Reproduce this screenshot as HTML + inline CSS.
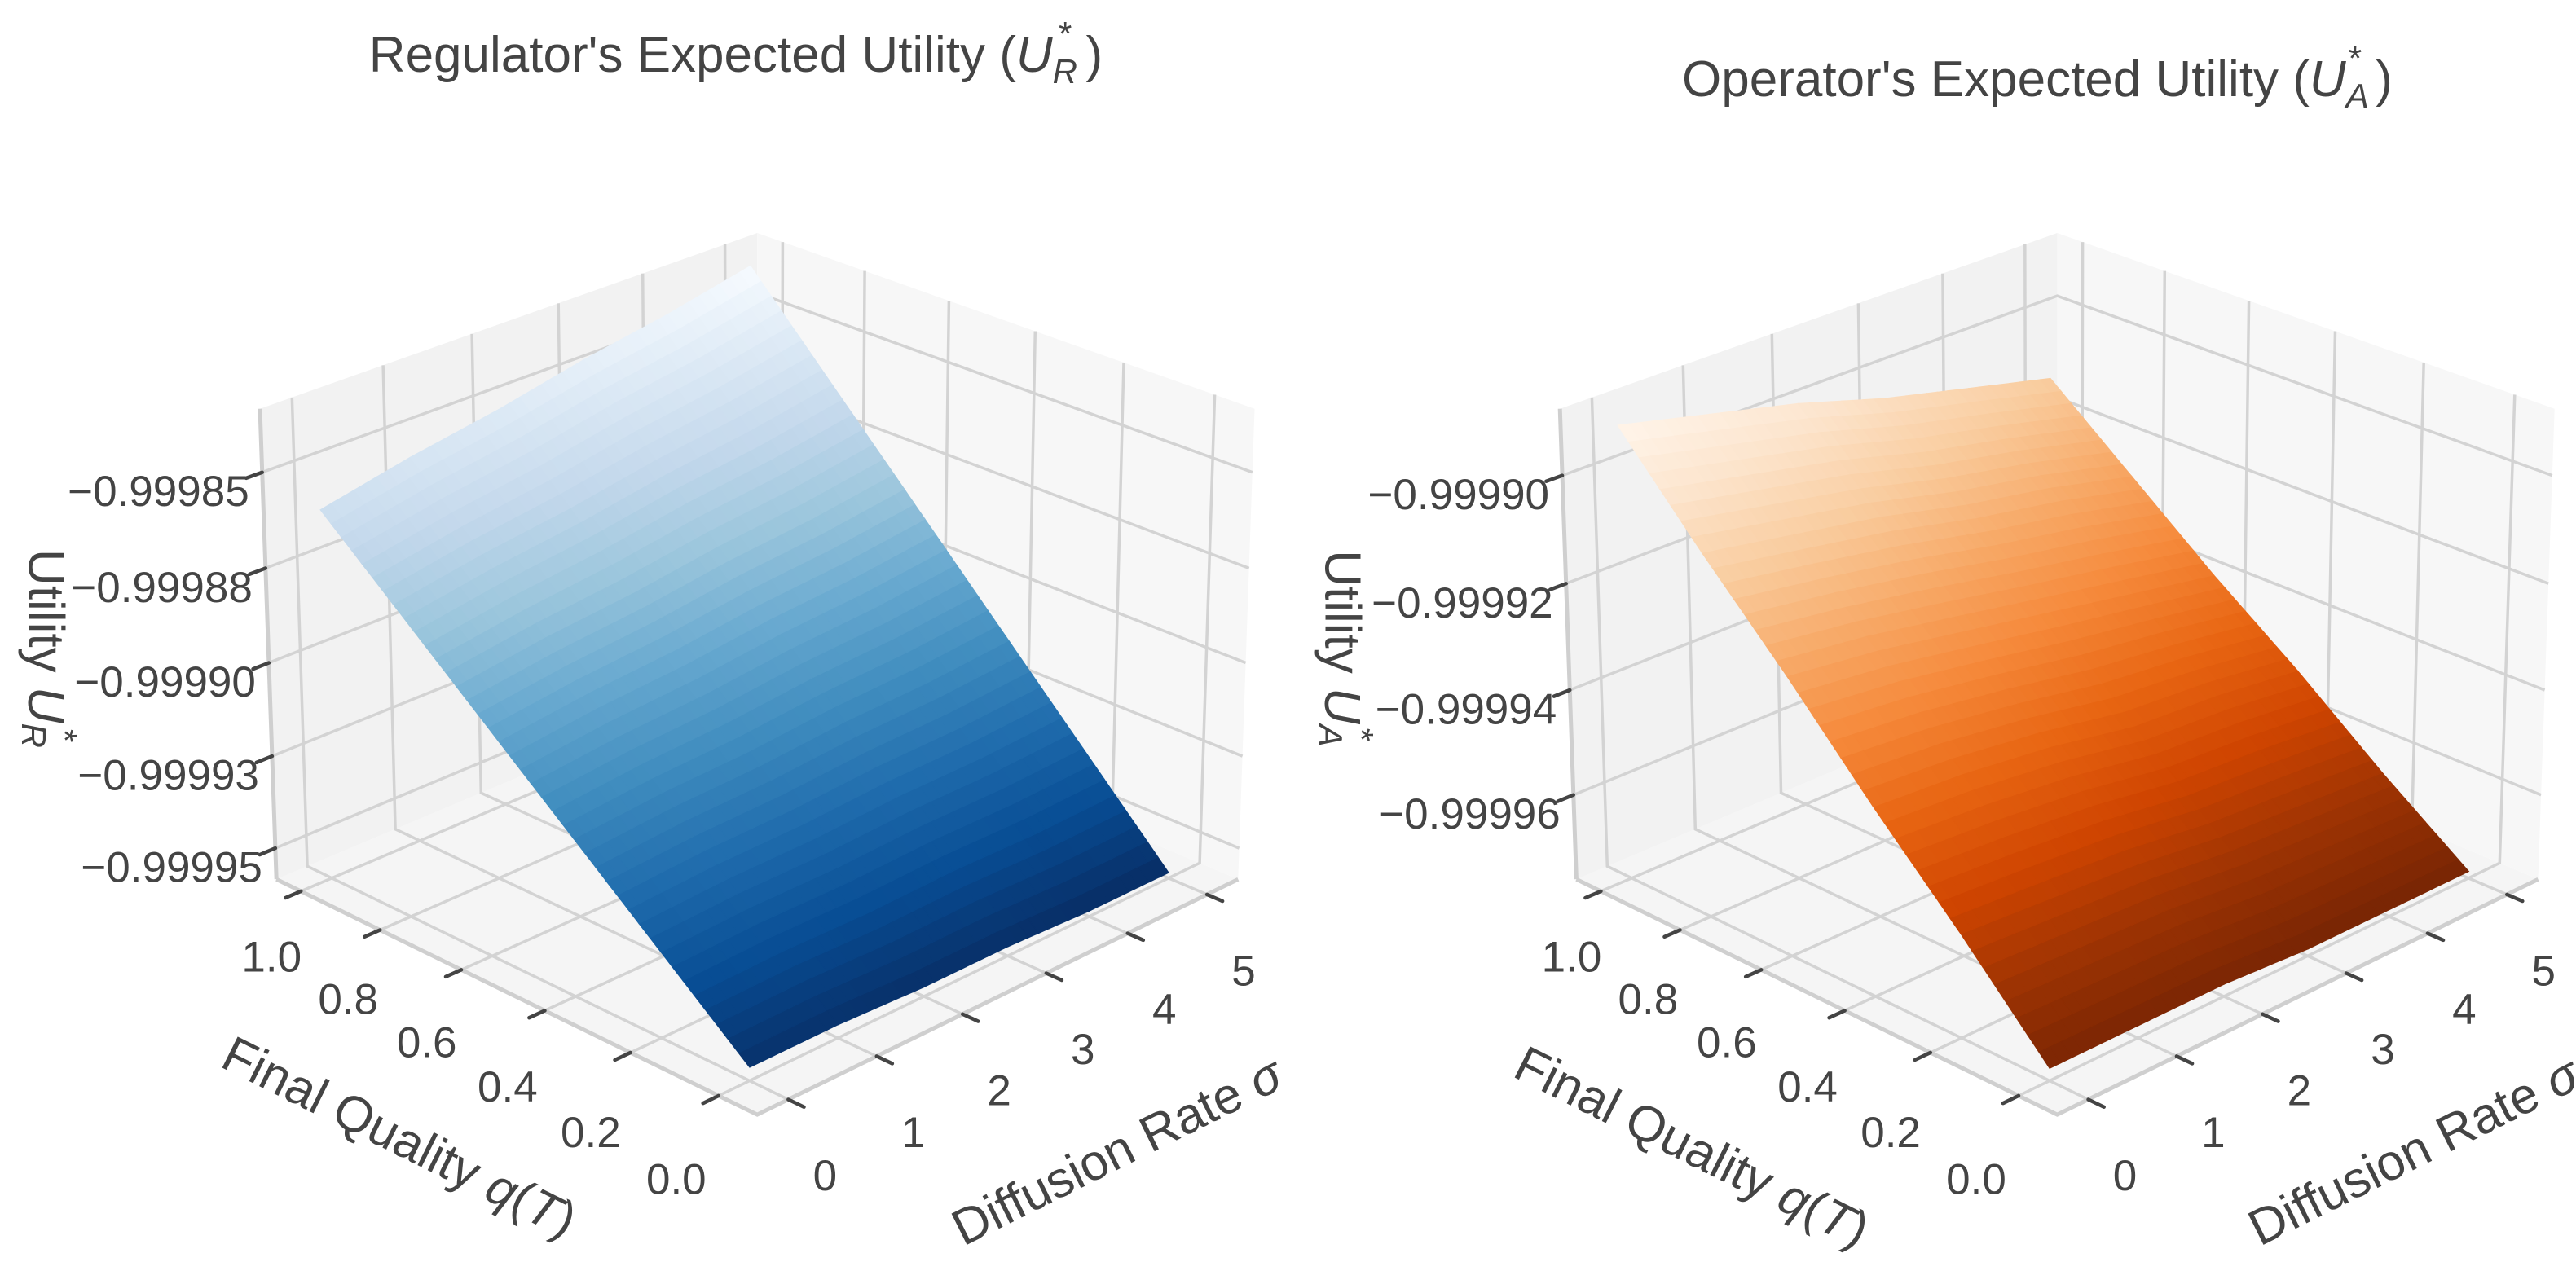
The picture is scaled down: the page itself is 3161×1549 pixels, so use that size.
<!DOCTYPE html>
<html><head><meta charset="utf-8"><style>
html,body{margin:0;padding:0;background:#fff;}
svg{display:block;font-family:"Liberation Sans",Arial,sans-serif;}
</style></head><body>
<svg id="fig" width="3161" height="1549" viewBox="0 0 3161 1549" xmlns="http://www.w3.org/2000/svg">
<rect width="3161" height="1549" fill="#fff"/>
<text x="903" y="88" font-size="62" fill="#444" text-anchor="middle">Regulator's Expected Utility (<tspan font-style="italic">U</tspan><tspan font-size="42" font-style="italic" dy="14">R</tspan><tspan font-size="42" dx="-23" dy="-46">*</tspan><tspan dy="32"> )</tspan></text>
<text x="2500" y="118" font-size="62" fill="#444" text-anchor="middle">Operator's Expected Utility (<tspan font-style="italic">U</tspan><tspan font-size="42" font-style="italic" dy="14">A</tspan><tspan font-size="42" dx="-25" dy="-46">*</tspan><tspan dy="32"> )</tspan></text>
<g id="p0"></g>
<g id="p1"></g>
</svg>
<script>
const sigmaVals=[0,1,2,3,4,5];
const qVals=[0,0.2,0.4,0.6,0.8,1.0];
const sigmaTickLabels=["0","1","2","3","4","5"];
const qTickLabels=["0.0","0.2","0.4","0.6","0.8","1.0"];
const urGrid=[
[-0.999955,-0.999955,-0.999956,-0.999956,-0.999957,-0.999957],
[-0.999936,-0.999935,-0.999935,-0.999934,-0.999934,-0.999933],
[-0.999917,-0.999915,-0.999914,-0.999912,-0.999911,-0.999909],
[-0.999898,-0.999895,-0.999893,-0.999890,-0.999888,-0.999885],
[-0.999879,-0.999875,-0.999872,-0.999868,-0.999865,-0.999861],
[-0.999860,-0.999855,-0.999851,-0.999846,-0.999842,-0.999837]];
const uaGrid=[
[-0.999974,-0.999974,-0.999974,-0.999975,-0.999975,-0.999975],
[-0.999957,-0.999958,-0.999959,-0.999961,-0.999962,-0.999963],
[-0.999941,-0.999942,-0.999944,-0.999947,-0.999948,-0.999950],
[-0.999924,-0.999926,-0.999929,-0.999932,-0.999935,-0.999938],
[-0.999908,-0.999911,-0.999914,-0.999918,-0.999921,-0.999925],
[-0.999891,-0.999895,-0.999899,-0.999904,-0.999908,-0.999912]];
const urTicks=[-0.99985,-0.999875,-0.9999,-0.999925,-0.99995];
const urTickLabels=["\u22120.99985","\u22120.99988","\u22120.99990","\u22120.99993","\u22120.99995"];
const uaTicks=[-0.9999,-0.99992,-0.99994,-0.99996];
const uaTickLabels=["\u22120.99990","\u22120.99992","\u22120.99994","\u22120.99996"];
const blues=["#f7fbff","#deebf7","#c6dbef","#9ecae1","#6baed6","#4292c6","#2171b5","#08519c","#08306b"];
const oranges=["#fff5eb","#fee6ce","#fdd0a2","#fdae6b","#fd8d3c","#f16913","#d94801","#a63603","#7f2704"];

const NS="http://www.w3.org/2000/svg";
function mk(tag,attrs,parent){const el=document.createElementNS(NS,tag);for(const k in attrs)el.setAttribute(k,attrs[k]);parent.appendChild(el);return el;}
function hex(h){return [parseInt(h.slice(1,3),16),parseInt(h.slice(3,5),16),parseInt(h.slice(5,7),16)];}
function cmap(list,t){t=Math.max(0,Math.min(1,t));const f=t*(list.length-1);const i=Math.min(list.length-2,Math.floor(f));const r=f-i;const a=hex(list[i]),b=hex(list[i+1]);const sh=1-0.06*t;return "rgb("+a.map((v,k)=>Math.round((v+(b[k]-v)*r)*sh)).join(",")+")";}

const S_MIN=-0.345,S_MAX=5.40,Q_MIN=-0.086,Q_MAX=1.063;
function makePanel(cfg){
  const g=document.getElementById(cfg.id);
  const c=0.0378,e=-0.01686,A=296.2,B=145.3,H=334.9,Cy=690.6;
  function P(u,v,w){const s=1/(1+c*(u+v)+e*w);const X=cfg.cx+A*s*(u-v);const Y=Cy+s*(-B*(u+v)-H*w);return [cfg.ox+1.0128*X,200+0.862*Y];}
  const us=x=>-1+2*(x-S_MIN)/(S_MAX-S_MIN);
  const vq=x=>-1+2*(x-Q_MIN)/(Q_MAX-Q_MIN);
  const wz=x=>-1+2*(x-cfg.zmin)/(cfg.zmax-cfg.zmin);
  const pts=a=>a.map(p=>p[0].toFixed(1)+","+p[1].toFixed(1)).join(" ");
  const floor=mk('polygon',{points:pts([P(-1,-1,-1),P(1,-1,-1),P(1,1,-1),P(-1,1,-1)]),fill:"#f5f5f5"},g);
  
  
  const wl=mk('polygon',{points:pts([P(-1,1,-1),P(1,1,-1),P(1,1,1),P(-1,1,1)]),fill:"#f2f2f2"},g);
  
  
  const wr=mk('polygon',{points:pts([P(1,1,-1),P(1,-1,-1),P(1,-1,1),P(1,1,1)]),fill:"#f7f7f7"},g);
  
  
  const gs={stroke:"#d3d3d3","stroke-width":3.5,fill:"none"};
  sigmaVals.forEach(sv=>{const u=us(sv);
    const l=mk('polyline',Object.assign({points:pts([P(u,-1,-1),P(u,1,-1),P(u,1,1)])},gs),g);
    
    });
  qVals.forEach(qv=>{const v=vq(qv);
    const l=mk('polyline',Object.assign({points:pts([P(-1,v,-1),P(1,v,-1),P(1,v,1)])},gs),g);
    
    });
  cfg.ticks.forEach(zv=>{const w=wz(zv);
    const l=mk('polyline',Object.assign({points:pts([P(-1,1,w),P(1,1,w),P(1,-1,w)])},gs),g);
    
    });
  const es={stroke:"#cfcfcf","stroke-width":5,fill:"none"};
  const e1=mk('polyline',Object.assign({points:pts([P(-1,1,-1),P(-1,-1,-1),P(1,-1,-1)])},es),g);
  
  
  const e2=mk('polyline',Object.assign({points:pts([P(-1,1,-1),P(-1,1,1)])},es),g);
  
  
  const sg=mk('g',{},g);
  
  
  let zlo=Infinity,zhi=-Infinity;cfg.grid.forEach(r=>r.forEach(z=>{zlo=Math.min(zlo,z);zhi=Math.max(zhi,z);}));
  const N=8;
  for(let i=0;i<qVals.length-1;i++)for(let j=0;j<sigmaVals.length-1;j++){
    const z00=cfg.grid[i][j],z01=cfg.grid[i][j+1],z10=cfg.grid[i+1][j],z11=cfg.grid[i+1][j+1];
    const bil=(a,b)=>z00*(1-a)*(1-b)+z01*a*(1-b)+z10*(1-a)*b+z11*a*b;
    for(let a=0;a<N;a++)for(let b=0;b<N;b++){
      const corn=[[a,b],[a+1,b],[a+1,b+1],[a,b+1]].map(([x,y])=>{const sx=sigmaVals[j]+(sigmaVals[j+1]-sigmaVals[j])*x/N;const qy=qVals[i]+(qVals[i+1]-qVals[i])*y/N;return P(us(sx),vq(qy),wz(bil(x/N,y/N)));});
      const zc=bil((a+0.5)/N,(b+0.5)/N);
      const col=cmap(cfg.cm,1-(zc-zlo)/(zhi-zlo));
      const poly=mk('polygon',{points:pts(corn),fill:col,stroke:col,"stroke-width":1.2},sg);
      
      
    }
  }
  const ts={stroke:"#444","stroke-width":4.5,"stroke-linecap":"round"};
  sigmaVals.forEach((sv,k)=>{const u=us(sv);const a=P(u,-1.0,-1),b=P(u,-1.06,-1);
    const t=mk('line',Object.assign({x1:a[0],y1:a[1],x2:b[0],y2:b[1]},ts),g);
    
    
    const lb=mk('text',{x:a[0]+45,y:a[1]+94,"font-size":53,fill:"#444","text-anchor":"middle","dominant-baseline":"central"},g);
    lb.textContent=sigmaTickLabels[k];
    
    });
  qVals.forEach((qv,k)=>{const v=vq(qv);const a=P(-1.0,v,-1),b=P(-1.06,v,-1);
    const t=mk('line',Object.assign({x1:a[0],y1:a[1],x2:b[0],y2:b[1]},ts),g);
    
    
    const dx=-52+16*qv,dy=103-22*qv;
    const lb=mk('text',{x:a[0]+dx,y:a[1]+dy,"font-size":53,fill:"#444","text-anchor":"middle","dominant-baseline":"central"},g);
    lb.textContent=qTickLabels[k];
    
    });
  cfg.ticks.forEach((zv,k)=>{const w=wz(zv);const a=P(-1.0,1,w),b=P(-1.06,1,w);
    const t=mk('line',Object.assign({x1:a[0],y1:a[1],x2:b[0],y2:b[1]},ts),g);
    
    
    const lb=mk('text',{x:a[0]-16,y:a[1]+24,"font-size":53,fill:"#444","text-anchor":"end","dominant-baseline":"central"},g);
    lb.textContent=cfg.tickLabels[k];
    
    });
  const ql=mk('text',{x:cfg.qlab[0],y:cfg.qlab[1],"font-size":62,fill:"#444","text-anchor":"middle","dominant-baseline":"central",transform:"rotate(26.5 "+cfg.qlab[0]+" "+cfg.qlab[1]+")"},g);
  ql.innerHTML='Final Quality <tspan font-style="italic">q</tspan>(<tspan font-style="italic">T</tspan>)';
  
  
  const sl=mk('text',{x:cfg.slab[0],y:cfg.slab[1],"font-size":62,fill:"#444","text-anchor":"middle","dominant-baseline":"central",transform:"rotate(-26.5 "+cfg.slab[0]+" "+cfg.slab[1]+")"},g);
  sl.innerHTML='Diffusion Rate <tspan font-style="italic">σ</tspan>';
  
  
  const zl=mk('text',{x:cfg.zlab[0],y:cfg.zlab[1],"font-size":62,fill:"#444","text-anchor":"middle","dominant-baseline":"central",transform:"rotate(90 "+cfg.zlab[0]+" "+cfg.zlab[1]+")"},g);
  zl.innerHTML='Utility <tspan font-style="italic">U</tspan><tspan font-size="42" font-style="italic" dy="14">'+cfg.sub+'</tspan><tspan font-size="42" dx="-23" dy="-38">*</tspan>';
  
  
}
makePanel({id:"p0",cx:917.5,ox:0,zmin:-0.9999585,zmax:-0.9998336,grid:urGrid,cm:blues,ticks:urTicks,tickLabels:urTickLabels,qlab:[490,1396],slab:[1371,1413],zlab:[56,796],sub:"R"});
makePanel({id:"p1",cx:932.5,ox:1580,zmin:-0.9999763,zmax:-0.9998878,grid:uaGrid,cm:oranges,ticks:uaTicks,tickLabels:uaTickLabels,qlab:[2076,1408],slab:[2962,1413],zlab:[1647,796],sub:"A"});
</script>
</body></html>
